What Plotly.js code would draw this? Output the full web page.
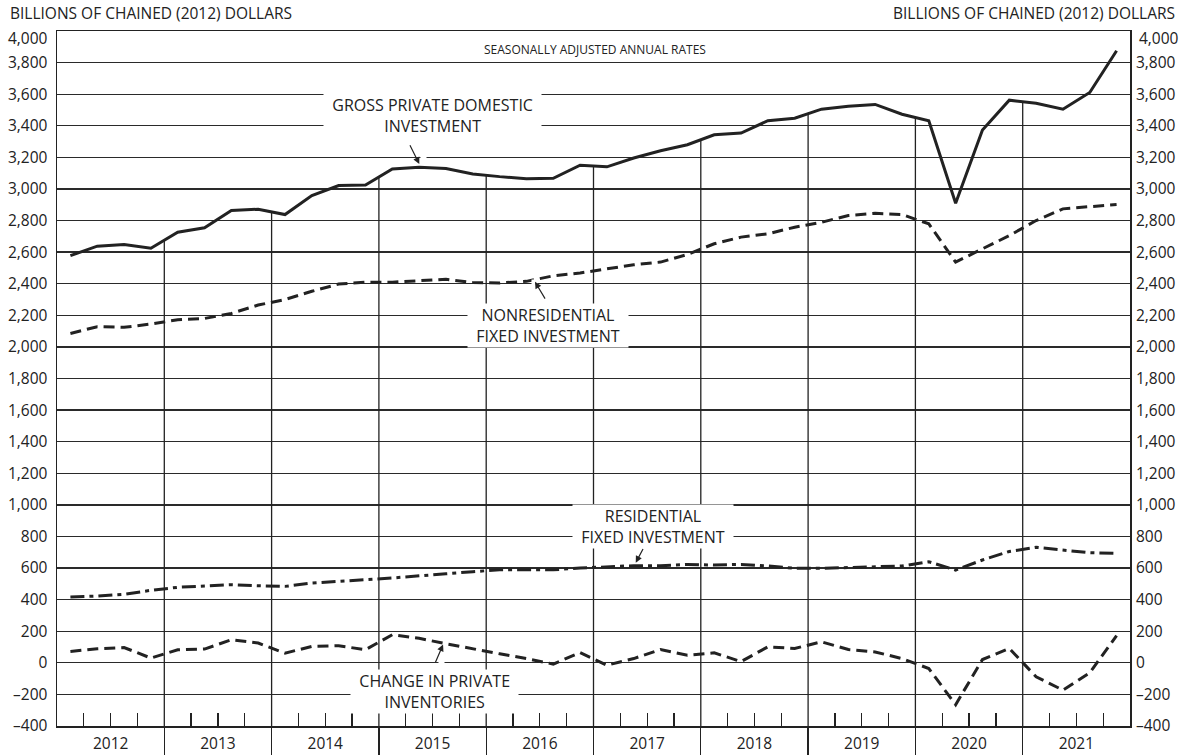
<!DOCTYPE html>
<html>
<head>
<meta charset="utf-8">
<script src="https://cdn.plot.ly/plotly-3.0.1.min.js"></script>
<style>html,body{margin:0;padding:0;background:#fff;}#chart{width:1185px;height:755px;}</style>
</head>
<body>
<div id="chart"></div>
<script>
// ---- data (billions of chained 2012 dollars, seasonally adjusted annual rates) ----
const years = [2012, 2013, 2014, 2015, 2016, 2017, 2018, 2019, 2020, 2021];
const quartersPerYear = 4;
const gpdi = [2578, 2638, 2648, 2625, 2726, 2754, 2863, 2872, 2838, 2958,
              3022, 3025, 3127, 3137, 3130, 3095, 3078, 3065, 3067, 3150,
              3140, 3196, 3242, 3280, 3343, 3354, 3432, 3448, 3505, 3524,
              3535, 3473, 3432, 2909, 3373, 3562, 3543, 3505, 3611, 3875];
const nonres = [2085, 2128, 2124, 2145, 2172, 2180, 2212, 2265, 2300, 2352,
                2398, 2410, 2410, 2418, 2428, 2408, 2405, 2415, 2450, 2468,
                2495, 2520, 2537, 2585, 2653, 2695, 2716, 2758, 2789, 2832,
                2846, 2838, 2779, 2537, 2621, 2705, 2800, 2874, 2888, 2901];
const res = [417, 423, 434, 459, 478, 488, 495, 488, 484, 505,
             514, 526, 537, 552, 564, 577, 589, 589, 589, 600,
             608, 615, 615, 623, 619, 623, 613, 598, 598, 602,
             608, 613, 640, 587, 651, 705, 731, 712, 697, 693];
const inv = [72, 89, 97, 30, 83, 87, 146, 125, 61, 104,
             108, 83, 178, 155, 121, 88, 57, 27, -8, 65,
             -15, 27, 84, 48, 63, 8, 101, 91, 133, 84,
             69, 27, -36, -265, 21, 91, -88, -173, -63, 172];
const yTickVals = [-400, -200, 0, 200, 400, 600, 800, 1000, 1200, 1400, 1600, 1800, 2000,
                   2200, 2400, 2600, 2800, 3000, 3200, 3400, 3600, 3800, 4000];
const fmt = v => (v < 0 ? '\u2013' : '') + Math.abs(v).toLocaleString('en-US');
const yTop = yTickVals[yTickVals.length - 1];
// the top label sits lower than its line, so it is drawn as an annotation
const yTickText = yTickVals.map(v => v === yTop ? '' : fmt(v));
const seriesLabels = {
  gpdi: ['GROSS PRIVATE DOMESTIC', 'INVESTMENT'],
  nonres: ['NONRESIDENTIAL', 'FIXED INVESTMENT'],
  res: ['RESIDENTIAL', 'FIXED INVESTMENT'],
  inv: ['CHANGE IN PRIVATE', 'INVENTORIES']
};
const unitLabel = 'BILLIONS OF CHAINED (2012) DOLLARS';
const noteLabel = 'SEASONALLY ADJUSTED ANNUAL RATES';

// ---- positions ----
const x0 = years[0], x1 = years[years.length - 1] + 1;
const qx = gpdi.map((_, i) => x0 + (i + 0.5) / quartersPerYear);
const yearBounds = years.slice(1);
const quarterBounds = [];
years.forEach(y => { for (let q = 1; q < quartersPerYear; q++) quarterBounds.push(y + q / quartersPerYear); });
const yearMids = years.map(y => y + 0.5);

// vertical year separators from the axis up to the GPDI line
const sepX = [], sepY = [];
yearBounds.forEach(b => {
  const i = (b - x0) * quartersPerYear;
  sepX.push(b, b, null);
  sepY.push(-400, (gpdi[i - 1] + gpdi[i]) / 2, null);
});

const INK = '#222222';
const FONT = '"Open Sans", Lato, sans-serif';
const TICK = 15.5;

const traces = [
  {x: sepX, y: sepY, xaxis: 'x2', mode: 'lines', line: {color: INK, width: 1.3}, hoverinfo: 'skip', showlegend: false},
  {x: qx, y: gpdi, mode: 'lines', line: {color: INK, width: 3}, showlegend: false},
  {x: qx, y: nonres, mode: 'lines', line: {color: INK, width: 3, dash: '11px,6px'}, showlegend: false},
  {x: qx, y: res, mode: 'lines', line: {color: INK, width: 3, dash: '14px,5px,4px,5px'}, showlegend: false},
  {x: qx, y: inv, mode: 'lines', line: {color: INK, width: 3, dash: '11px,6px'}, showlegend: false},
  {x: [x0], y: [0], yaxis: 'y2', mode: 'markers', marker: {opacity: 0}, hoverinfo: 'skip', showlegend: false}
];

const pad = '\u00a0\u00a0';
function label(lines, x, y) {
  return {text: lines.map(l => pad + l + pad).join('<br>'), x: x, y: y, xref: 'x', yref: 'y', showarrow: false,
          font: {family: FONT, size: 16, color: INK}, bgcolor: '#ffffff', borderpad: 0,
          align: 'center', xanchor: 'center', yanchor: 'middle'};
}
function gap(x, y) {
  return {text: '&nbsp;&nbsp;&nbsp;', x: x, y: y, xref: 'x', yref: 'y', showarrow: false,
          font: {family: FONT, size: 6, color: INK}, bgcolor: '#ffffff', borderpad: 0,
          xanchor: 'center', yanchor: 'middle'};
}
function arrow(x, y, ax, ay) {
  return {text: '', x: x, y: y, xref: 'x', yref: 'y', showarrow: true, ax: ax, ay: ay,
          arrowhead: 2, arrowsize: 1.1, arrowwidth: 1.2, arrowcolor: INK, standoff: 2};
}
function paperText(text, x, y, xanchor, size) {
  return {text: text, xref: 'paper', yref: 'paper', x: x, y: y, xanchor: xanchor, yanchor: 'middle',
          showarrow: false, font: {family: FONT, size: size, color: INK}};
}

const annotations = [
  paperText(unitLabel, -0.0457, 1.026, 'left', 15.5),
  paperText(unitLabel, 1.0438, 1.026, 'right', 15.5),
  paperText(noteLabel, 0.5014, 0.9727, 'center', 12),
  paperText(fmt(yTop), -0.0065, 0.9899, 'right', TICK),
  paperText(fmt(yTop), 1.0062, 0.9899, 'left', TICK),
  label(seriesLabels.gpdi, 2015.5, 3462),
  label(seriesLabels.nonres, 2016.58, 2135),
  label(seriesLabels.res, 2017.55, 862),
  label(seriesLabels.inv, 2015.52, -180),
  gap(2015.42, 3200),
  gap(2016.45, 2400),
  gap(2015.58, 0),
  arrow(qx[13] + 0.01, gpdi[13] + 10, -11, -22),
  arrow(qx[17] + 0.07, nonres[17] + 8, 12, 20),
  arrow(qx[21] + 0.01, res[21] + 8, 9, -17),
  arrow(qx[14] - 0.02, inv[14] + 6, -9, 21)
];

const layout = {
  width: 1185, height: 755,
  margin: {l: 57, r: 55, t: 31, b: 29, pad: 0},
  paper_bgcolor: '#ffffff', plot_bgcolor: '#ffffff',
  font: {family: FONT, size: 14, color: INK},
  showlegend: false,
  xaxis: {range: [x0, x1], showgrid: false, zeroline: false, showline: true, mirror: true,
          linecolor: INK, linewidth: 1.5, tickmode: 'array', tickvals: yearBounds,
          ticks: 'outside', ticklen: 30, tickwidth: 1.3, tickcolor: INK, showticklabels: false,
          minor: {tickmode: 'array', tickvals: quarterBounds, ticks: 'inside', ticklen: 13, tickwidth: 1.3, tickcolor: INK, showgrid: false}},
  xaxis2: {range: [x0, x1], overlaying: 'x', anchor: 'y', side: 'bottom', showgrid: false, zeroline: false,
           showline: false, tickmode: 'array', tickvals: yearMids, ticktext: years.map(String),
           ticks: '', ticklabelstandoff: 6, tickfont: {family: FONT, size: TICK, color: INK}},
  yaxis: {range: [-400, 4000], showgrid: true, gridcolor: '#2a2a2a', gridwidth: 1.35, zeroline: false,
          showline: true, mirror: true, linecolor: INK, linewidth: 1.5, ticks: '',
          tickmode: 'array', tickvals: yTickVals, ticktext: yTickText, ticklabelstandoff: 5,
          tickfont: {family: FONT, size: TICK, color: INK}},
  yaxis2: {range: [-400, 4000], overlaying: 'y', side: 'right', anchor: 'x', showgrid: false, zeroline: false,
           showline: false, ticks: '', tickmode: 'array', tickvals: yTickVals, ticktext: yTickText,
           ticklabelstandoff: 5, tickfont: {family: FONT, size: TICK, color: INK}},
  annotations: annotations
};

Plotly.newPlot('chart', traces, layout, {displayModeBar: false, staticPlot: true});
</script>
</body>
</html>
